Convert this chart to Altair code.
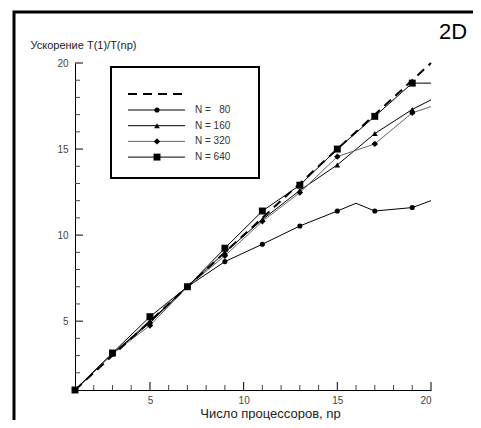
import altair as alt
import pandas as pd

# ---- data ----
ideal_x = [1, 20]
ideal_y = [1, 20]

n80_x = [1, 3, 5, 7, 9, 11, 13, 15, 16, 17, 19, 20]
n80_y = [1.0, 3.1, 4.9, 7.0, 8.46, 9.47, 10.53, 11.4, 11.85, 11.4, 11.6, 12.0]

n160_x = [1, 3, 5, 7, 9, 11, 13, 15, 17, 19, 20]
n160_y = [1.0, 3.1, 5.0, 7.0, 9.0, 10.9, 12.6, 14.08, 15.9, 17.3, 17.86]

n320_x = [1, 3, 5, 7, 9, 11, 13, 15, 17, 19, 20]
n320_y = [1.0, 3.1, 4.75, 7.0, 8.8, 10.8, 12.47, 14.56, 15.3, 17.1, 17.47]

n640_x = [1, 3, 5, 7, 9, 11, 13, 15, 17, 19, 20]
n640_y = [1.0, 3.15, 5.26, 7.0, 9.24, 11.4, 12.9, 15.0, 16.9, 18.83, 18.83]

series_names = ["N = 80", "N = 160", "N = 320", "N = 640"]
legend_labels = ["N = \u200780", "N = 160", "N = 320", "N = 640"]
series_shapes = ["circle", "triangle-up", "diamond", "square"]
series_sizes = [26, 48, 60, 38]
series_colors = ["black", "black", "#666666", "black"]

axis_values = [5, 10, 15, 20]
tick_values = list(range(2, 21))

x_title = "Число процессоров, np"
y_title = "Ускорение T(1)/T(np)"
corner_text = ["2D"]

# ---- build table ----
rows = []
for name, xs_, ys_ in zip(series_names,
                          [n80_x, n160_x, n320_x, n640_x],
                          [n80_y, n160_y, n320_y, n640_y]):
    for xv, yv in zip(xs_, ys_):
        rows.append({"series": name, "x": xv, "y": yv, "marker": xv % 2 == 1})
df = pd.DataFrame(rows)
ideal_df = pd.DataFrame({"x": ideal_x, "y": ideal_y})
ticks_df = pd.DataFrame({"x": tick_values, "y": tick_values,
                         "major": [v % 5 == 0 for v in tick_values]})

W, H = 356, 327
FONT = "Liberation Sans"

xs = alt.Scale(domain=[1, 20], nice=False, zero=False)
ys = alt.Scale(domain=[1, 20], nice=False, zero=False)

color_scale = alt.Scale(domain=series_names, range=series_colors)
shape_scale = alt.Scale(domain=series_names, range=series_shapes)
size_scale = alt.Scale(domain=series_names, range=series_sizes)

x_axis = alt.Axis(values=axis_values, ticks=False, grid=False, domain=True, domainColor="black",
                  domainWidth=1, labelFont=FONT, labelFontSize=10, labelColor="#444444",
                  labelPadding=5, title=x_title, titleFont=FONT, titleFontSize=13,
                  titleFontWeight="normal", titleColor="#222222", titleX=195, titleY=23,
                  titleAlign="center", titleBaseline="middle")
y_axis = alt.Axis(values=axis_values, ticks=False, grid=False, domain=True, domainColor="black",
                  domainWidth=1, labelFont=FONT, labelFontSize=10, labelColor="#444444",
                  labelPadding=7, title=y_title, titleFont=FONT, titleFontSize=11,
                  titleFontWeight="normal", titleColor="#222222", titleAngle=0,
                  titleAlign="left", titleBaseline="middle", titleX=-45, titleY=-18)

X = alt.X("x:Q", scale=xs, axis=x_axis)
Y = alt.Y("y:Q", scale=ys, axis=y_axis)

lines = alt.Chart(df).mark_line(strokeWidth=1).encode(
    x=X, y=Y,
    color=alt.Color("series:N", scale=color_scale, legend=None),
    order="x:Q",
)

points = alt.Chart(df).transform_filter("datum.marker").mark_point(
    filled=True, opacity=1, color="black").encode(
    x=X, y=Y,
    shape=alt.Shape("series:N", scale=shape_scale, legend=None),
    size=alt.Size("series:N", scale=size_scale, legend=None),
)

ideal = alt.Chart(ideal_df).mark_line(strokeDash=[9, 6], strokeWidth=2, color="black").encode(
    x=X, y=Y)

x_major = alt.Chart(ticks_df).transform_filter("datum.major").mark_rule(color="black", strokeWidth=1).encode(
    x=X, y=alt.value(H), y2=alt.value(H - 8))
x_minor = alt.Chart(ticks_df).transform_filter("!datum.major").mark_rule(color="#444444", strokeWidth=1).encode(
    x=X, y=alt.value(H), y2=alt.value(H - 5))
y_major = alt.Chart(ticks_df).transform_filter("datum.major").mark_rule(color="black", strokeWidth=1).encode(
    y=Y, x=alt.value(0), x2=alt.value(8))
y_minor = alt.Chart(ticks_df).transform_filter("!datum.major").mark_rule(color="#444444", strokeWidth=1).encode(
    y=Y, x=alt.value(0), x2=alt.value(5))

# ---- decorations: outer frame, legend box, corner label ----
one = pd.DataFrame({"t": corner_text})
outer = alt.Chart(one).mark_rect(fillOpacity=0, stroke="black", strokeWidth=3).encode(
    x=alt.value(-61), x2=alt.value(430), y=alt.value(-51), y2=alt.value(390))
label2d = alt.Chart(one).mark_text(font=FONT, fontSize=22, align="center", baseline="middle",
                                   color="black").encode(
    text="t:N", x=alt.value(378), y=alt.value(-31))

leg_box = alt.Chart(one).mark_rect(fillOpacity=0, stroke="black", strokeWidth=2).encode(
    x=alt.value(36), x2=alt.value(184), y=alt.value(4), y2=alt.value(115))
leg_dash = alt.Chart(one).mark_rule(strokeDash=[9, 6], strokeWidth=2, color="black").encode(
    x=alt.value(53), x2=alt.value(110), y=alt.value(31))

legend_layers = [leg_box, leg_dash]
LY0, LDY = 47, 15.7
for i, (name, lab) in enumerate(zip(series_names, legend_labels)):
    yy = LY0 + i * LDY
    item = pd.DataFrame({"series": [name], "label": [lab]})
    legend_layers.append(alt.Chart(item).mark_rule(strokeWidth=1).encode(
        x=alt.value(53), x2=alt.value(110), y=alt.value(yy),
        color=alt.Color("series:N", scale=color_scale, legend=None)))
    legend_layers.append(alt.Chart(item).mark_point(filled=True, opacity=1, color="black").encode(
        x=alt.value(82), y=alt.value(yy),
        shape=alt.Shape("series:N", scale=shape_scale, legend=None),
        size=alt.Size("series:N", scale=size_scale, legend=None)))
    legend_layers.append(alt.Chart(item).mark_text(font=FONT, fontSize=10, align="left",
                                                   baseline="middle", color="#333333").encode(
        text="label:N", x=alt.value(120), y=alt.value(yy)))

chart = alt.layer(
    lines, ideal, points, x_major, x_minor, y_major, y_minor,
    outer, label2d, *legend_layers
).properties(
    width=W, height=H,
    autosize="none",
    padding={"left": 67, "top": 55, "right": 42, "bottom": 30},
    background="white",
).configure_view(stroke=None)

chart.save("out.html", embed_options={"renderer": "svg", "actions": False})
